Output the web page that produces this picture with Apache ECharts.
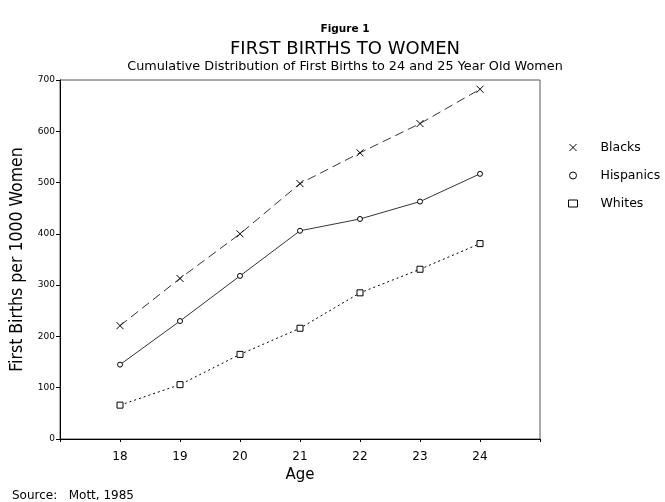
<!DOCTYPE html>
<html><head><meta charset="utf-8">
<script src="https://cdn.jsdelivr.net/npm/echarts@6/dist/echarts.min.js"></script>
<style>html,body{margin:0;padding:0;background:#fff}#c{width:665px;height:502px}</style>
</head><body><div id="c"></div>
<script>
var ages = [18, 19, 20, 21, 22, 23, 24];
var blacks = [221, 313, 400, 498, 558, 615, 682];
var hispanics = [145, 230, 318, 406, 429, 463, 517];
var whites = [66, 106, 165, 216, 285, 331, 381];
var seriesNames = ['Blacks', 'Hispanics', 'Whites'];

function pairs(v){ return ages.map(function(a,i){ return [a, v[i]]; }); }
var xPath = 'path://M0,0L10,10M10,0L0,10';
var chart = echarts.init(document.getElementById('c'));
var F = 'DejaVu Sans';
chart.setOption({
  animation: false,
  backgroundColor: '#fff',
  title: [
    {text: 'Figure 1', left: 340, top: 19, textAlign: 'center', textStyle: {fontFamily: F, fontSize: 10.5, fontWeight: 'bold', color: '#000'}},
    {text: 'FIRST BIRTHS TO WOMEN', left: 340, top: 35, textAlign: 'center', textStyle: {fontFamily: F, fontSize: 18, fontWeight: 'normal', color: '#000'}},
    {text: 'Cumulative Distribution of First Births to 24 and 25 Year Old Women', left: 340, top: 55, textAlign: 'center', textStyle: {fontFamily: F, fontSize: 12.8, fontWeight: 'normal', color: '#000'}},
    {text: 'Source:   Mott, 1985', left: 7, top: 485, textStyle: {fontFamily: F, fontSize: 12, fontWeight: 'normal', color: '#000'}}
  ],
  grid: {left: 60, right: 125, top: 80, bottom: 63, show: true, borderColor: '#555', borderWidth: 1},
  legend: {
    orient: 'vertical', left: 562, top: 136, itemGap: 15, itemWidth: 9, itemHeight: 7,
    textStyle: {fontFamily: F, fontSize: 12.5, color: '#000', padding: [0,0,0,18]},
    data: [
      {name: 'Blacks', icon: xPath, itemStyle: {color: 'none', borderColor: '#000', borderWidth: 1}},
      {name: 'Hispanics', icon: 'circle', itemStyle: {color: '#fff', borderColor: '#000', borderWidth: 1}},
      {name: 'Whites', icon: 'rect', itemStyle: {color: '#fff', borderColor: '#000', borderWidth: 1}}
    ]
  },
  xAxis: {
    type: 'value', min: 17, max: 25, interval: 1,
    name: 'Age', nameLocation: 'middle', nameGap: 28,
    nameTextStyle: {fontFamily: F, fontSize: 15, color: '#000'},
    axisLine: {lineStyle: {color: '#000', width: 1}},
    axisTick: {inside: false, length: 3, lineStyle: {color: '#000'}},
    axisLabel: {fontFamily: F, fontSize: 12, color: '#000', margin: 12,
      formatter: function(v){ return (v >= 18 && v <= 24) ? String(v) : ''; }},
    splitLine: {show: false}
  },
  yAxis: {
    type: 'value', min: 0, max: 700, interval: 100,
    name: 'First Births per 1000 Women', nameLocation: 'middle', nameGap: 31,
    nameTextStyle: {fontFamily: "'DejaVu Sans Condensed', 'Liberation Sans', sans-serif", fontSize: 17.5, color: '#000'},
    axisLine: {show: true, lineStyle: {color: '#000', width: 1}},
    axisTick: {show: true, length: 4, lineStyle: {color: '#000'}},
    axisLabel: {fontFamily: F, fontSize: 9, color: '#000', margin: 5},
    splitLine: {show: false}
  },
  series: [
    {name: 'Blacks', type: 'line', data: pairs(blacks), symbol: xPath, symbolSize: 7,
     lineStyle: {color: '#000', width: 0.8, type: [9, 5]},
     itemStyle: {color: 'none', borderColor: '#000', borderWidth: 1}},
    {name: 'Hispanics', type: 'line', data: pairs(hispanics), symbol: 'circle', symbolSize: 5,
     lineStyle: {color: '#000', width: 0.8, type: 'solid'},
     itemStyle: {color: '#fff', borderColor: '#000', borderWidth: 1}},
    {name: 'Whites', type: 'line', data: pairs(whites), symbol: 'rect', symbolSize: 6,
     lineStyle: {color: '#000', width: 1, type: [2, 3]},
     itemStyle: {color: '#fff', borderColor: '#000', borderWidth: 1}}
  ]
});
</script></body></html>
